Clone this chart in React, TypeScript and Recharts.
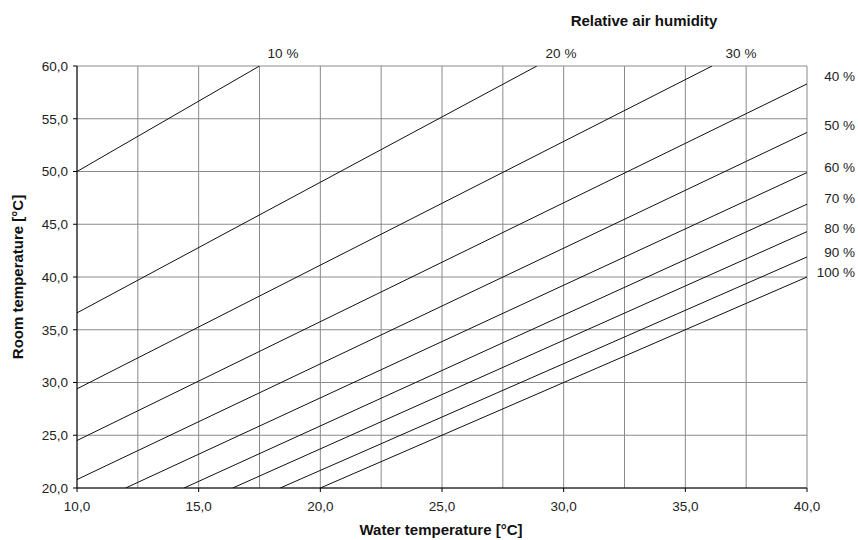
import React from 'react';
import { LineChart, Line, XAxis, YAxis, CartesianGrid } from 'recharts';

// humidity curves: room temperature vs water temperature (start / end points)
const rh10 = [{ x: 10, y: 50 }, { x: 17.5, y: 60 }];
const rh20 = [{ x: 10, y: 36.6 }, { x: 28.9, y: 60 }];
const rh30 = [{ x: 10, y: 29.4 }, { x: 36.1, y: 60 }];
const rh40 = [{ x: 10, y: 24.5 }, { x: 40, y: 58.3 }];
const rh50 = [{ x: 10, y: 20.8 }, { x: 40, y: 53.7 }];
const rh60 = [{ x: 12.0, y: 20 }, { x: 40, y: 49.9 }];
const rh70 = [{ x: 14.4, y: 20 }, { x: 40, y: 46.9 }];
const rh80 = [{ x: 16.4, y: 20 }, { x: 40, y: 44.3 }];
const rh90 = [{ x: 18.35, y: 20 }, { x: 40, y: 41.9 }];
const rh100 = [{ x: 20, y: 20 }, { x: 40, y: 40 }];

const series = [rh10, rh20, rh30, rh40, rh50, rh60, rh70, rh80, rh90, rh100];

const xTicks = [10, 15, 20, 25, 30, 35, 40];
const xGrid = [10, 12.5, 15, 17.5, 20, 22.5, 25, 27.5, 30, 32.5, 35, 37.5, 40];
const yTicks = [20, 25, 30, 35, 40, 45, 50, 55, 60];

const topLabels = ['10 %', '20 %', '30 %'];
const sideLabels = ['40 %', '50 %', '60 %', '70 %', '80 %', '90 %', '100 %'];

// label placement (px)
const topLabelX = [283, 561, 741];
const sideLabelY = [76, 125, 167, 198, 228, 252, 272];

const fmt = (v: number) => v.toFixed(1).replace('.', ',');
const FONT = '"Liberation Sans", Arial, sans-serif';

const App: React.FC = () => {
  return (
    <div style={{ position: 'absolute', left: 0, top: 0, width: 858, height: 540, background: '#fff', fontFamily: FONT }}>
      <LineChart width={858} height={540} margin={{ top: 66, right: 51, bottom: 22, left: 37 }}>
        <CartesianGrid stroke="#8a8a8a" strokeWidth={1} verticalValues={xGrid} horizontalValues={yTicks} />
        <XAxis
          type="number"
          dataKey="x"
          domain={[10, 40]}
          ticks={xTicks}
          allowDataOverflow
          tickFormatter={fmt}
          tick={{ fontSize: 13.5, fill: '#222', fontFamily: FONT }}
          tickSize={4}
          tickMargin={9}
          stroke="#000"
          height={30}
        />
        <YAxis
          type="number"
          dataKey="y"
          domain={[20, 60]}
          ticks={yTicks}
          allowDataOverflow
          tickFormatter={fmt}
          tick={{ fontSize: 13.5, fill: '#222', fontFamily: FONT }}
          tickSize={4}
          tickMargin={5}
          stroke="#000"
          width={40}
        />
        {series.map((d, i) => (
          <Line
            key={i}
            data={d}
            dataKey="y"
            type="linear"
            stroke="#111"
            strokeWidth={1}
            dot={false}
            activeDot={false}
            isAnimationActive={false}
          />
        ))}
      </LineChart>

      <div style={{ position: 'absolute', left: 644, top: 20, transform: 'translate(-50%, -50%)', fontSize: 15, fontWeight: 'bold', color: '#111', whiteSpace: 'nowrap' }}>
        Relative air humidity
      </div>
      {topLabels.map((t, i) => (
        <div key={t} style={{ position: 'absolute', left: topLabelX[i], top: 53, transform: 'translate(-50%, -50%)', fontSize: 13.5, color: '#222', whiteSpace: 'nowrap' }}>
          {t}
        </div>
      ))}
      {sideLabels.map((t, i) => (
        <div key={t} style={{ position: 'absolute', right: 3, top: sideLabelY[i], transform: 'translateY(-50%)', fontSize: 13.5, color: '#222', whiteSpace: 'nowrap' }}>
          {t}
        </div>
      ))}
      <div style={{ position: 'absolute', left: 441, top: 529, transform: 'translate(-50%, -50%)', fontSize: 15, fontWeight: 'bold', color: '#111', whiteSpace: 'nowrap' }}>
        Water temperature [°C]
      </div>
      <div style={{ position: 'absolute', left: 17, top: 277, transform: 'translate(-50%, -50%) rotate(-90deg)', fontSize: 15, fontWeight: 'bold', color: '#111', whiteSpace: 'nowrap' }}>
        Room temperature [°C]
      </div>
    </div>
  );
};

export default App;
